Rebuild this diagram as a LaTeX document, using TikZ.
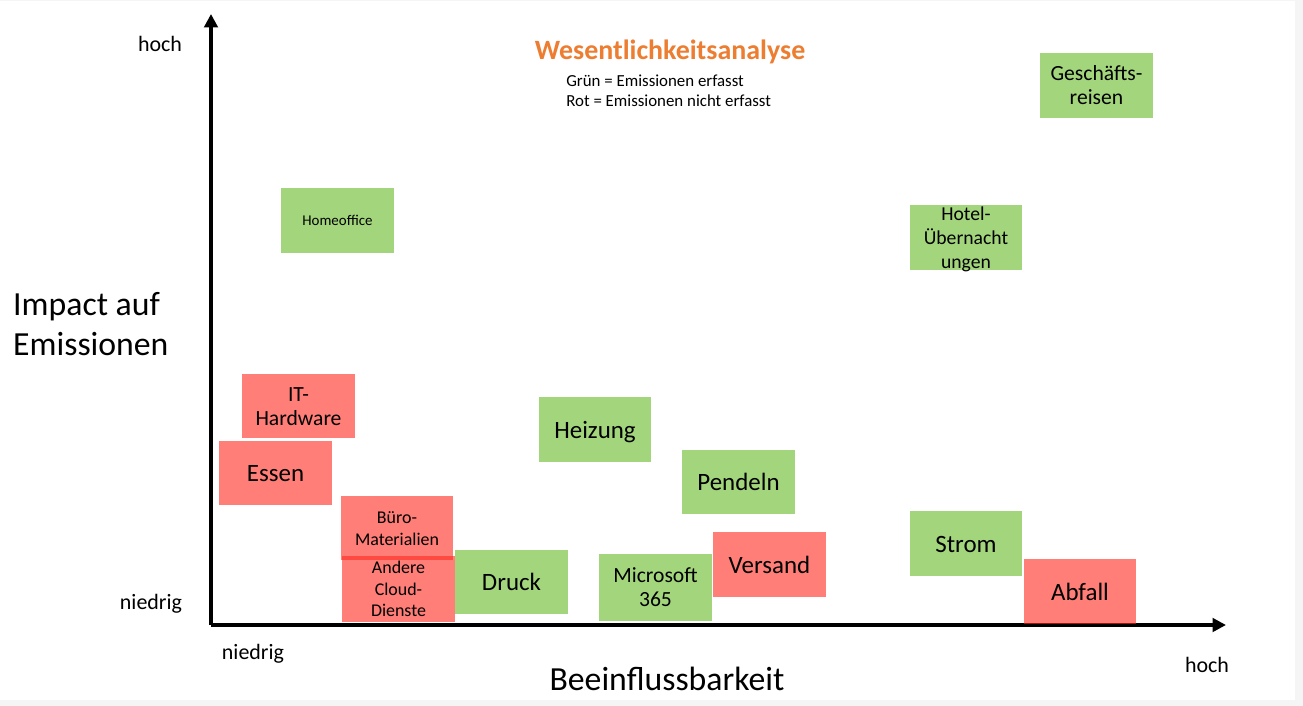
\documentclass[tikz,border=0pt]{standalone}
\usepackage{fontspec}
\setmainfont{Carlito}
\usetikzlibrary{arrows.meta}
\definecolor{feldgruen}{RGB}{102,188,37}
\definecolor{feldrot}{RGB}{255,40,30}
\definecolor{titelorange}{HTML}{ED7D31}
\definecolor{rand}{HTML}{F5F5F5}
% Zeilenstuetze wie in PowerPoint (Zeile mittig gesetzt)
\newcommand{\zs}{\rule[-0.2\baselineskip]{0pt}{\baselineskip}}
\tikzset{
  feld/.style={minimum width=2.26cm,minimum height=1.3cm,inner sep=0pt,align=center,fill opacity=0.6,text opacity=1},
  gruen/.style={feld,fill=feldgruen},
  rot/.style={feld,fill=feldrot},
  gross/.style={font=\fontsize{14.2}{17}\selectfont},
  mittel/.style={font=\fontsize{12.3}{13.7}\selectfont},
  klein/.style={font=\fontsize{10.2}{12.2}\selectfont},
  winzig/.style={font=\fontsize{8.5}{10}\selectfont},
  achse/.style={-{Triangle[length=0.27cm,width=0.27cm]},line width=2.3pt},
  skala/.style={font=\fontsize{12.5}{14}\selectfont},
  achsentitel/.style={font=\fontsize{19.2}{22.7}\selectfont},
}
\begin{document}
\begin{tikzpicture}[x=0.02cm,y=-0.02cm]
  \useasboundingbox (0,0) rectangle (1303,706);
  \fill[rand] (0,0) rectangle (1303,706);
  \fill[white] (0,1) rectangle (1295,700);
  % Achsen
  \coordinate (ursprung) at (211,625);
  \coordinate (yspitze) at (211,14);
  \coordinate (xspitze) at (1226,625);
  \draw[achse] (ursprung) -- (yspitze);
  \draw[achse] (ursprung) -- (xspitze);
  \node[skala] (yhoch) at (160,44) {hoch};
  \node[skala] (yniedrig) at (151,604) {niedrig};
  \node[skala] (xniedrig) at (253,654) {niedrig};
  \node[skala] (xhoch) at (1207,665) {hoch};
  \node[achsentitel] (xtitel) at (667,679) {Beeinflussbarkeit};
  \node[achsentitel,align=left,anchor=west] (ytitel) at (7,324) {Impact auf\\Emissionen};
  % Titel und Legende
  \node[font=\fontsize{15.9}{18}\selectfont\bfseries,text=titelorange] (titel) at (670,52) {Wesentlichkeitsanalyse};
  \node[font=\fontsize{9.6}{11.3}\selectfont,align=left,anchor=west,inner sep=0pt] (legende) at (566,91) {Grün = Emissionen erfasst\\Rot = Emissionen nicht erfasst};
  % Felder
  \node[gruen,mittel] (reisen) at (1096.5,85.5) {\zs Geschäfts-\\\zs reisen};
  \node[gruen,winzig] (homeoffice) at (337.5,220.5) {\zs Homeoffice};
  \node[gruen,font=\fontsize{11.2}{13.6}\selectfont,inner ysep=-2.05pt] (hotel) at (966,237.5) {\zs Hotel-\\\zs Übernacht\\\zs ungen};
  \node[rot,mittel] (hardware) at (298.5,406) {\zs IT-\\\zs Hardware};
  \node[rot,gross] (essen) at (275.5,473) {\zs Essen};
  \node[gruen,gross] (heizung) at (595,429.5) {\zs Heizung};
  \node[gruen,gross] (pendeln) at (738.5,482) {\zs Pendeln};
  \node[rot,klein,minimum height=1.28cm] (buero) at (397,528) {\zs Büro-\\\zs Materialien};
  \node[rot,klein,minimum height=1.32cm] (cloud) at (398.5,589) {\zs Andere\\\zs Cloud-\\\zs Dienste};
  \node[gruen,gross] (druck) at (511.5,582) {\zs Druck};
  \node[gruen,mittel,minimum height=1.34cm] (microsoft) at (655.5,587.5) {\zs Microsoft\\\zs 365};
  \node[rot,gross] (versand) at (769.5,564.5) {\zs Versand};
  \node[gruen,gross] (strom) at (966,543.5) {\zs Strom};
  \node[rot,gross] (abfall) at (1080,591.5) {\zs Abfall};
\end{tikzpicture}
\end{document}
